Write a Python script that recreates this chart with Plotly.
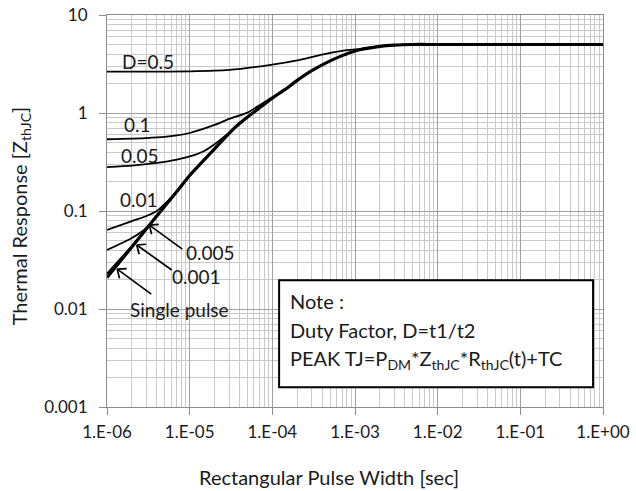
import numpy as np
import plotly.graph_objects as go

# ---------------- data ----------------
x_ticks = [1e-6, 1e-5, 1e-4, 1e-3, 1e-2, 1e-1, 1e0]
x_ticktext = ["1.E-06", "1.E-05", "1.E-04", "1.E-03", "1.E-02", "1.E-01", "1.E+00"]
y_ticks = [0.001, 0.01, 0.1, 1, 10]
y_ticktext = ["0.001", "0.01", "0.1", "1", "10"]
minor_mult = [2, 3, 4, 5, 6, 7, 8, 9]

single_x = [1e-6, 2e-6, 3e-6, 5e-6, 7e-6, 1e-5, 2e-5, 3e-5, 4e-5, 7e-5, 1e-4, 1.4e-4,
            2e-4, 3e-4, 5e-4, 7e-4, 1e-3, 2e-3, 3e-3, 5e-3, 1e-2, 1e-1, 1e0]
single_y = [0.021, 0.043, 0.066, 0.112, 0.158, 0.23, 0.43, 0.62, 0.78, 1.13, 1.42, 1.72,
            2.15, 2.7, 3.4, 3.85, 4.3, 4.78, 4.93, 5.0, 5.0, 5.0, 5.0]

d05_x = [1e-6, 3e-6, 1e-5, 3e-5, 1e-4, 2e-4, 4e-4, 7e-4, 1e-3, 2e-3, 3e-3, 5e-3, 1e-2, 1e-1, 1e0]
d05_y = [2.64, 2.64, 2.66, 2.75, 3.12, 3.45, 3.95, 4.3, 4.45, 4.8, 4.93, 5.0, 5.0, 5.0, 5.0]

d01_x = [1e-6, 3e-6, 5e-6, 7e-6, 1e-5, 2e-5, 3e-5, 5e-5, 7e-5, 1e-4, 1.4e-4, 2e-4]
d01_y = [0.54, 0.555, 0.57, 0.59, 0.625, 0.755, 0.87, 1.01, 1.2, 1.45, 1.73, 2.15]

d005_x = [1e-6, 2e-6, 4e-6, 7e-6, 1e-5, 1.5e-5, 2e-5, 3e-5, 4e-5, 7e-5]
d005_y = [0.28, 0.29, 0.31, 0.335, 0.36, 0.41, 0.48, 0.63, 0.78, 1.13]

d001_x = [1e-6, 2e-6, 3e-6, 4e-6, 5e-6, 7e-6, 1e-5, 2e-5]
d001_y = [0.064, 0.079, 0.089, 0.1, 0.118, 0.16, 0.23, 0.43]

d0005_x = [1e-6, 2e-6, 3e-6, 5e-6, 7e-6, 1e-5]
d0005_y = [0.040, 0.053, 0.067, 0.112, 0.158, 0.23]

d0001_x = [1e-6, 2e-6, 3e-6, 5e-6, 7e-6]
d0001_y = [0.023, 0.044, 0.066, 0.112, 0.158]

# curve labels (text, x, y in data units)
label_text = ["D=0.5", "0.1", "0.05", "0.01", "0.005", "0.001", "Single pulse"]
label_x = [3.1e-6, 2.31e-6, 2.51e-6, 2.44e-6, 1.81e-5, 1.22e-5, 7.43e-6]
label_y = [3.32, 0.764, 0.372, 0.132, 0.038, 0.0216, 0.00995]

# arrows: tip (data units) and tail offset (px, right / down)
arrow_x = [3.25e-6, 2.29e-6, 1.33e-6]
arrow_y = [0.0718, 0.045, 0.0255]
arrow_dx = [33, 35, 34]
arrow_dy = [24, 25, 25]

note_lines = ["Note :", "Duty Factor, D=t1/t2",
              "PEAK TJ=P<sub>DM</sub>*Z<sub>thJC</sub>*R<sub>thJC</sub>(t)+TC"]

# ---------------- figure ----------------
FONT = "Lato, 'Open Sans', sans-serif"
TXT = "#1a1a1a"
X_RANGE = [-6, 0]
Y_RANGE = [-3, 1]
fig = go.Figure()

series = [
    (d05_x, d05_y, 1.8),
    (d01_x, d01_y, 1.8),
    (d005_x, d005_y, 1.8),
    (d001_x, d001_y, 1.8),
    (d0005_x, d0005_y, 1.8),
    (d0001_x, d0001_y, 1.8),
    (single_x, single_y, 3.2),
]
for sx, sy, w in series:
    fig.add_trace(go.Scatter(x=sx, y=sy, mode="lines",
                             line=dict(color="black", width=w, shape="spline", smoothing=0.6),
                             showlegend=False, hoverinfo="skip"))

minor_x = [m * d for d in x_ticks[:-1] for m in minor_mult]
minor_y = [m * d for d in y_ticks[:-1] for m in minor_mult]

axis_common = dict(
    type="log", showgrid=True, gridcolor="#a0a0a0", gridwidth=1,
    showline=True, linecolor="#8c8c8c", linewidth=1, mirror=True,
    ticks="outside", ticklen=7, tickcolor="#8c8c8c",
    tickfont=dict(family=FONT, size=17, color=TXT),
    zeroline=False, automargin=False,
)
fig.update_xaxes(range=X_RANGE, tickvals=x_ticks, ticktext=x_ticktext,
                 minor=dict(tickvals=minor_x, showgrid=True, gridcolor="#c9c9c9", gridwidth=1, ticks=""),
                 ticklabelstandoff=3, **axis_common)
fig.update_yaxes(range=Y_RANGE, tickvals=y_ticks, ticktext=y_ticktext,
                 minor=dict(tickvals=minor_y, showgrid=True, gridcolor="#c9c9c9", gridwidth=1, ticks=""),
                 ticklabelstandoff=8, **axis_common)

ann = []
for t, lx, ly in zip(label_text, label_x, label_y):
    ann.append(dict(x=np.log10(lx), y=np.log10(ly), xref="x", yref="y", text=t,
                    xanchor="center", yanchor="middle",
                    showarrow=False, font=dict(family=FONT, size=19, color=TXT)))

# arrows drawn as thin line shapes anchored at the tip (open V heads)
WING = 9.5
ANG = np.deg2rad(40)
for tx, ty, dx, dy in zip(arrow_x, arrow_y, arrow_dx, arrow_dy):
    px = (np.log10(tx) - X_RANGE[0]) / (X_RANGE[1] - X_RANGE[0])
    py = (np.log10(ty) - Y_RANGE[0]) / (Y_RANGE[1] - Y_RANGE[0])
    ux, uy = dx, -dy  # to shape pixel coords (y up)
    n = np.hypot(ux, uy)
    ux, uy = ux / n, uy / n
    segs = [(ux * n, uy * n)]
    for s in (1, -1):
        c, si = np.cos(s * ANG), np.sin(s * ANG)
        segs.append((WING * (ux * c - uy * si), WING * (ux * si + uy * c)))
    for ex, ey in segs:
        fig.add_shape(type="line", xref="paper", yref="paper",
                      xsizemode="pixel", ysizemode="pixel", xanchor=px, yanchor=py,
                      x0=0, y0=0, x1=ex, y1=ey,
                      line=dict(color="black", width=1.7), layer="above")

# axis titles
ann.append(dict(x=(329 - 107) / 496, y=(406.7 - 477) / 392, xref="paper", yref="paper",
                xanchor="center", yanchor="middle",
                text="Rectangular Pulse Width [sec]", showarrow=False,
                font=dict(family=FONT, size=20, color=TXT)))
ann.append(dict(x=(20 - 107) / 496, y=(406.7 - 216) / 392, xref="paper", yref="paper", textangle=-90,
                xanchor="center", yanchor="middle",
                text="Thermal Response [Z<sub>thJC</sub>]", showarrow=False,
                font=dict(family=FONT, size=20, color=TXT)))

# note box
note_y = [0.2708, 0.1959, 0.1218]
for line, ny in zip(note_lines, note_y):
    ann.append(dict(x=0.365, y=ny, xref="paper", yref="paper", text=line,
                    xanchor="left", yanchor="middle", showarrow=False,
                    font=dict(family=FONT, size=20, color=TXT)))

fig.add_shape(type="rect", xref="paper", yref="paper", x0=0.347, x1=0.98, y0=0.0503, y1=0.3236,
              line=dict(color="black", width=2), fillcolor="white", layer="above")

fig.update_layout(width=636, height=491, margin=dict(l=107, r=33, t=15, b=84),
                  paper_bgcolor="white", plot_bgcolor="white", annotations=ann,
                  font=dict(family=FONT, color=TXT))

fig.write_html("out.html", config={"displayModeBar": False},
               post_script="document.body.style.margin='0px';document.body.style.overflow='hidden';")
